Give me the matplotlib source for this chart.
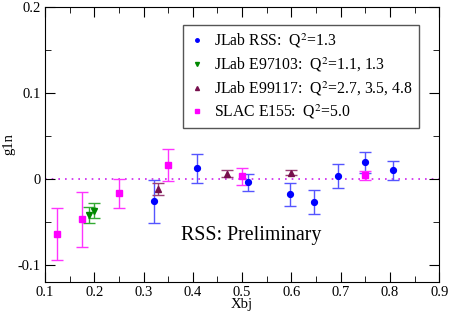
import numpy as np
from matplotlib import pyplot as plt

plt.rcParams['font.family'] = ['Liberation Serif', 'DejaVu Serif']
plt.rcParams['mathtext.fontset'] = 'stix'

# JLab RSS, Q^2=1.3
rss_x = [0.322, 0.408, 0.512, 0.597, 0.646, 0.695, 0.749, 0.807]
rss_y = [-0.026, 0.012, -0.004, -0.018, -0.027, 0.003, 0.019, 0.010]
rss_e = [0.025, 0.017, 0.010, 0.0135, 0.0135, 0.014, 0.0125, 0.011]

# JLab E97103
e97_x = [0.19, 0.20]
e97_y = [-0.042, -0.037]
e97_e = [0.009, 0.009]

# JLab E99117
e99_x = [0.33, 0.47, 0.60]
e99_y = [-0.012, 0.006, 0.007]
e99_e = [0.007, 0.004, 0.003]

# SLAC E155
slac_x = [0.125, 0.175, 0.25, 0.35, 0.50, 0.75]
slac_y = [-0.064, -0.047, -0.017, 0.016, 0.003, 0.004]
slac_e = [0.030, 0.032, 0.017, 0.019, 0.010, 0.005]

xticks = [0.1, 0.2, 0.3, 0.4, 0.5, 0.6, 0.7, 0.8, 0.9]
xticklabels = ['0.1', '0.2', '0.3', '0.4', '0.5', '0.6', '0.7', '0.8', '0.9']
yticks = [-0.1, 0, 0.1, 0.2]
yticklabels = ['-0.1', '0', '0.1', '0.2']

fig = plt.figure(figsize=(4.5, 3.15), dpi=100)
ax = fig.add_axes([0.1, 0.105, 0.876, 0.873])

ax.axhline(0, color='#cc22ee', linestyle=(0, (1, 3)), linewidth=1.2, zorder=1)

cap = 4.5
ax.errorbar(rss_x, rss_y, yerr=rss_e, fmt='o', color='#0000ff', ecolor='#5555ff',
            markersize=4.2, capsize=cap, elinewidth=1, capthick=1,
            label='JLab RSS:  Q$^2$=1.3')
ax.errorbar(e97_x, e97_y, yerr=e97_e, fmt='v', color='#008800', ecolor='#33aa33',
            markersize=4.8, capsize=cap, elinewidth=1, capthick=1,
            label='JLab E97103:  Q$^2$=1.1, 1.3')
ax.errorbar(e99_x, e99_y, yerr=e99_e, fmt='^', color='#77104d', ecolor='#9a4077',
            markersize=4.8, capsize=cap, elinewidth=1, capthick=1,
            label='JLab E99117:  Q$^2$=2.7, 3.5, 4.8')
ax.errorbar(slac_x, slac_y, yerr=slac_e, fmt='s', color='#ff00ff', ecolor='#ff33ff',
            markersize=4, capsize=cap, elinewidth=1, capthick=1,
            label='SLAC E155:  Q$^2$=5.0')

ax.set_xlim(0.1, 0.9)
ax.set_ylim(-0.12, 0.2)
ax.set_xticks(xticks)
ax.set_xticklabels(xticklabels)
ax.set_xticks(np.arange(0.15, 0.9, 0.1), minor=True)
ax.set_yticks(yticks)
ax.set_yticklabels(yticklabels)
ax.set_yticks([-0.05, 0.05, 0.15], minor=True)
ax.tick_params(which='both', direction='in', top=True, right=True, labelsize=10.5, pad=3)
ax.tick_params(which='major', length=7)
ax.tick_params(which='minor', length=4)

ax.set_xlabel('Xbj', fontsize=10.5, labelpad=-1)
ax.set_ylabel('g1n', fontsize=10.5, labelpad=2)

ax.text(0.375, -0.066, 'RSS: Preliminary', fontsize=14.3, va='center', ha='left')

handles, labels = ax.get_legend_handles_labels()
handles = [h[0] for h in handles]
leg = ax.legend(handles, labels, loc='upper left', bbox_to_anchor=(0.35, 0.935),
                borderaxespad=0, fontsize=11.3, markerscale=0.6, handlelength=0.9,
                handletextpad=0.6, borderpad=0.45, labelspacing=0.32,
                fancybox=False, framealpha=1)
leg.get_frame().set_edgecolor('#555555')
leg.get_frame().set_linewidth(1)

plt.savefig('out.png', dpi=100)
